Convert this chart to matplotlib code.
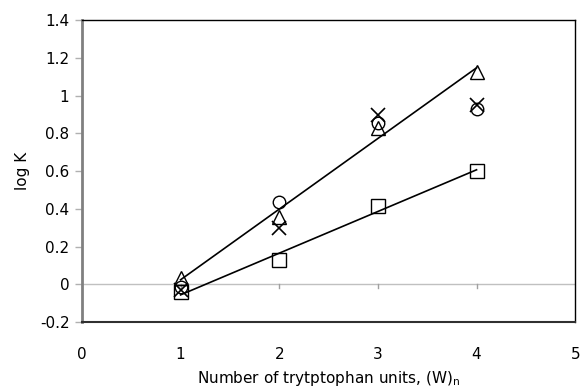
import numpy as np
import matplotlib.pyplot as plt

# log K versus number of tryptophan units
n_units = [1, 2, 3, 4]
logk_triangle = [0.035, 0.355, 0.83, 1.125]
logk_circle = [-0.015, 0.435, 0.855, 0.93]
logk_cross = [-0.03, 0.30, 0.90, 0.95]
logk_square = [-0.04, 0.127, 0.417, 0.60]

x_ticks = [0, 1, 2, 3, 4, 5]
y_ticks = [-0.2, 0, 0.2, 0.4, 0.6, 0.8, 1.0, 1.2, 1.4]
y_labels = ["-0.2", "0", "0.2", "0.4", "0.6", "0.8", "1", "1.2", "1.4"]

plt.rcParams['font.family'] = ['DejaVu Sans']

fig = plt.figure(figsize=(5.81, 3.90), dpi=100)
ax = fig.add_axes([0.141, 0.174, 0.849, 0.774])

# zero line with its own small tick marks
ax.axhline(0, color='#c0c0c0', lw=1.0, zorder=1)
for xv in n_units:
    ax.plot([xv, xv], [0, -0.02], color='#a0a0a0', lw=1.0, zorder=1)

# linear trendlines through triangles and squares
x_arr = np.array(n_units, dtype=float)
for series in (logk_triangle, logk_square):
    slope, icpt = np.polyfit(x_arr, series, 1)
    ax.plot(x_arr[[0, -1]], slope * x_arr[[0, -1]] + icpt, color='black', lw=1.2, zorder=2)

mk = dict(linestyle='none', markerfacecolor='none', markeredgecolor='black', zorder=3)
ax.plot(n_units, logk_square, marker='s', markersize=9.5, markeredgewidth=1.0, **mk)
ax.plot(n_units, logk_circle, marker='o', markersize=9, markeredgewidth=1.0, **mk)
ax.plot(n_units, logk_triangle, marker='^', markersize=10.5, markeredgewidth=1.0, **mk)
ax.plot(n_units, logk_cross, marker='x', markersize=10, markeredgewidth=1.2, **mk)

ax.set_xlim(0, 5)
ax.set_ylim(-0.2, 1.4)
ax.set_xticks(x_ticks)
ax.set_yticks(y_ticks)
ax.set_yticklabels(y_labels)

ax.spines['left'].set_color('#808080')
ax.spines['left'].set_linewidth(2.0)
for side in ('top', 'right', 'bottom'):
    ax.spines[side].set_color('black')
    ax.spines[side].set_linewidth(1.0)
ax.spines['bottom'].set_color('#303030')
ax.spines['bottom'].set_linewidth(1.5)

ax.tick_params(axis='y', direction='out', length=5, width=1, color='#b0b0b0',
               labelsize=11, pad=4)
ax.tick_params(axis='x', length=0, labelsize=11, pad=18)

ax.set_ylabel('log K', fontsize=11, labelpad=7)
ax.set_xlabel(r'Number of trytptophan units, (W)$_\mathregular{n}$', fontsize=11, labelpad=5)

fig.savefig('out.png', dpi=100, facecolor='white')
